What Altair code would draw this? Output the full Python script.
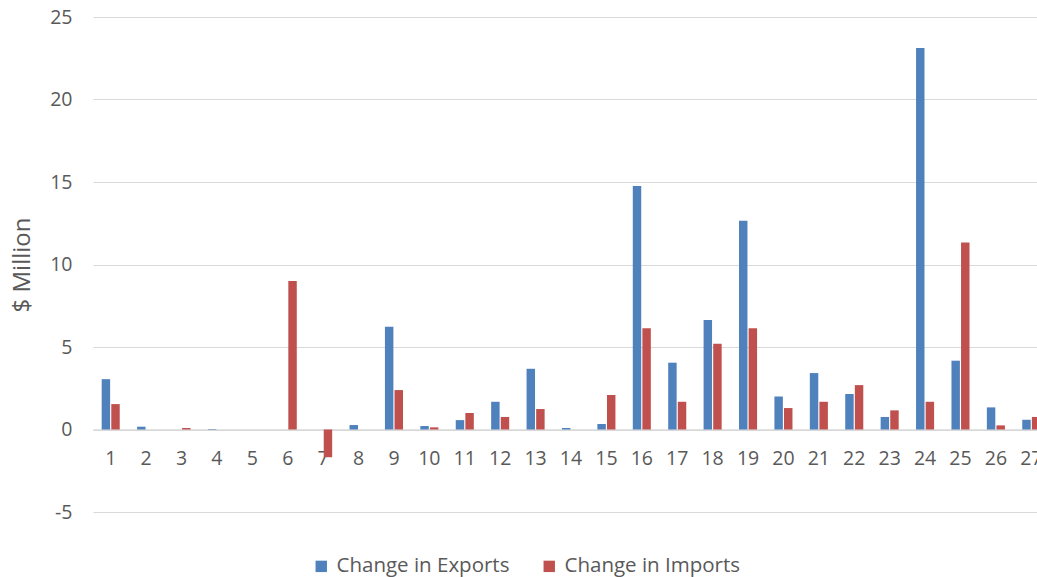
import altair as alt
import pandas as pd

categories = [str(i) for i in range(1, 28)]
exports = [3.05, 0.17, 0.0, 0.03, 0.0, 0.0, 0.0, 0.27, 6.23, 0.21, 0.57, 1.68, 3.68, 0.09,
           0.33, 14.76, 4.05, 6.64, 12.65, 2.0, 3.42, 2.15, 0.76, 23.12, 4.17, 1.34, 0.59]
imports = [1.54, 0.0, 0.09, 0.0, 0.0, 9.0, -1.68, 0.0, 2.39, 0.13, 1.0, 0.76, 1.24, 0.0,
           2.09, 6.13, 1.68, 5.2, 6.13, 1.3, 1.68, 2.69, 1.16, 1.68, 11.34, 0.25, 0.76]
series = ["Change in Exports", "Change in Imports"]
colors = ["#4F81BD", "#C0504D"]

rows = []
for c, e, i in zip(categories, exports, imports):
    rows.append({"cat": c, "series": series[0], "value": e})
    rows.append({"cat": c, "series": series[1], "value": i})
df = pd.DataFrame(rows)

FONT = "Open Sans"
PLOT_H = 495
PLOT_W = 944

bars = alt.Chart(df).mark_bar(clip=True).encode(
    x=alt.X("cat:N", sort=categories,
            scale=alt.Scale(range=[0, 956], paddingInner=0.49, paddingOuter=0.245),
            axis=alt.Axis(title=None, orient="bottom", offset=-PLOT_H * 5 / 30,
                          domain=True, domainColor="#d9d9d9", domainWidth=1.5,
                          ticks=False, labelAngle=0, labelFontSize=19.5, labelFont=FONT,
                          labelColor="#595959", labelPadding=20, grid=False)),
    xOffset=alt.XOffset("series:N", sort=series,
                        scale=alt.Scale(paddingInner=0.12)),
    y=alt.Y("value:Q",
            scale=alt.Scale(domain=[-5, 25], nice=False, zero=False),
            axis=alt.Axis(title="$ Million", values=[-5, 0, 5, 10, 15, 20, 25],
                          labelExpr="'' + datum.value",
                          domain=False, ticks=False,
                          labelFontSize=19.5, labelFont=FONT,
                          labelColor="#595959", labelPadding=21,
                          gridColor="#d9d9d9", gridWidth=1,
                          titleFont=FONT, titleFontSize=24, titleFontWeight="normal",
                          titleColor="#595959", titleAngle=-90, titleX=-71,
                          titleY=PLOT_H / 2, titleAlign="center", titleBaseline="middle")),
    color=alt.Color("series:N", sort=series,
                    scale=alt.Scale(domain=series, range=colors),
                    legend=alt.Legend(title=None, orient="none", direction="horizontal",
                                      legendX=218, legendY=539,
                                      symbolType="square", symbolSize=130,
                                      symbolStrokeWidth=0, labelLimit=400,
                                      labelFont=FONT, labelFontSize=20.5,
                                      labelColor="#595959", labelOffset=5,
                                      columnPadding=29)),
)

chart = bars.properties(
    width=PLOT_W, height=PLOT_H,
    background="white",
    autosize=alt.AutoSizeParams(type="none"),
    padding={"left": 93, "top": 17, "right": 0, "bottom": 65},
).configure_view(strokeWidth=0, stroke="transparent")

chart.save("out.html", embed_options={"renderer": "svg", "actions": False})
